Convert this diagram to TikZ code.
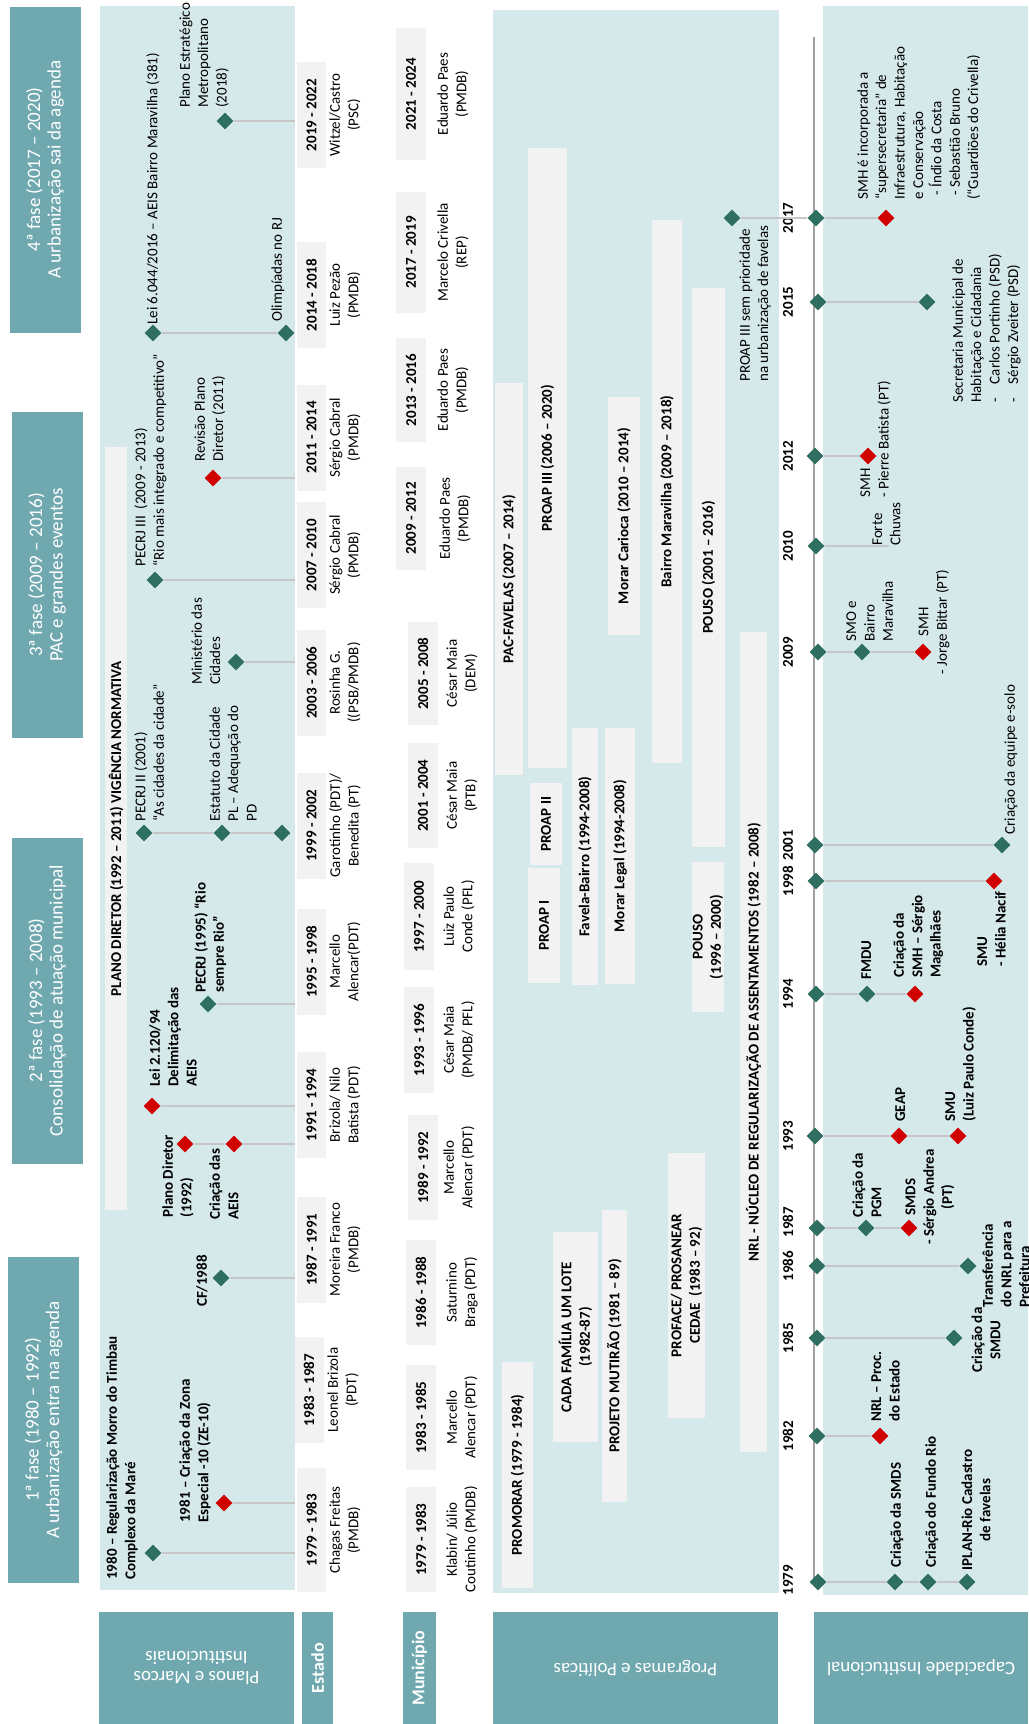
\documentclass[tikz,border=0pt]{standalone}
\usepackage{fontspec}
\setmainfont{Carlito}
\usetikzlibrary{shapes.geometric}

\definecolor{tealfase}{RGB}{111,168,175}
\definecolor{azulfundo}{RGB}{213,232,234}
\definecolor{cinzacaixa}{RGB}{242,242,242}
\definecolor{verdemarco}{RGB}{46,111,97}
\definecolor{vermelhomarco}{RGB}{208,0,0}
\definecolor{cinzalinha}{RGB}{198,198,198}
\definecolor{cinzaeixo}{RGB}{160,160,160}

\newcommand{\tx}{\fontsize{7.5}{9.2}\selectfont}
\newcommand{\txfase}{\fontsize{9.5}{10.2}\selectfont}
\newcommand{\txrotulo}{\fontsize{9.5}{10}\selectfont}

\begin{document}
\begin{tikzpicture}[x=0.5pt,y=-0.5pt,
		txt/.style={rotate=90,anchor=north west,align=left,inner sep=0pt,font=\tx},
		btxt/.style={txt,font=\tx\bfseries},
		ctxt/.style={rotate=90,align=center,inner sep=0pt,font=\tx},
		cbtxt/.style={ctxt,font=\tx\bfseries},
		mverde/.style={diamond,fill=verdemarco,inner sep=0pt,minimum width=8.5pt,minimum height=8.5pt},
		mverm/.style={mverde,fill=vermelhomarco},
		liga/.style={draw=cinzalinha,line width=0.6pt},
		fase/.style={rotate=90,fill=tealfase,text=white,align=center,font=\txfase,minimum width=163pt,minimum height=35.5pt,inner sep=0pt},
		faixa/.style={rotate=90,fill=cinzacaixa,align=center,font=\tx\bfseries,inner sep=0pt},
		gestao/.style={rotate=90,fill=cinzacaixa,font=\tx\bfseries,minimum width=53pt,minimum height=14.5pt,inner sep=0pt},
		gestaom/.style={gestao,minimum height=15pt},
		nome/.style={ctxt},
		ano/.style={rotate=90,font=\tx\bfseries,inner sep=0pt},
		rotulo/.style={rotate=180,fill=tealfase,text=white,align=center,font=\txrotulo,minimum height=56pt,inner sep=0pt},
		rotulov/.style={rotate=90,fill=tealfase,text=white,font=\fontsize{9}{10}\selectfont\bfseries,minimum width=56pt,inner sep=0pt}
	]
	\fill[white] (0,0) rectangle (1028,1724);
	\useasboundingbox (0,0) rectangle (1028,1724);

	% fases
	\node[fase] (fase4) at (45,169.5) {4ª fase (2017 – 2020)\\A urbanização sai da agenda};
	\node[fase] (fase3) at (47,575) {3ª fase (2009 – 2016)\\PAC e grandes eventos};
	\node[fase] (fase2) at (47,1000.5) {2ª fase (1993 – 2008)\\Consolidação de atuação municipal};
	\node[fase] (fase1) at (43.5,1420) {1ª fase (1980 – 1992)\\A urbanização entra na agenda};

	% fundos
	\fill[azulfundo] (100,6) rectangle (295,1590);
	\fill[azulfundo] (493,10) rectangle (779,1593);
	\fill[azulfundo] (823,6) rectangle (1028,1595);

	% rotulos das linhas
	\node[rotulo,minimum width=97.5pt] (rplanos) at (196.5,1668) {Planos e Marcos\\Institucionais};
	\node[rotulov,minimum height=15.5pt] (restado) at (317.5,1668) {Estado};
	\node[rotulov,minimum height=16.5pt] (rmunic) at (419.5,1668) {Município};
	\node[rotulo,minimum width=142.5pt] (rprog) at (635.5,1668) {Programas e Políticas};
	\node[rotulo,minimum width=107pt] (rcap) at (921,1668) {Capacidade Institucional};

	% planos e marcos
	\node[faixa,minimum width=381.5pt,minimum height=11pt] (pdfaixa) at (116,828.5) {PLANO DIRETOR (1992 – 2011) VIGÊNCIA NORMATIVA};

	\node[mverde] (pem) at (225,121) {};
	\coordinate (pemfim) at (295,121);
	\draw[liga] (pem) -- (pemfim);
	\node[txt] (tpem) at (179,108) {Plano Estratégico\\Metropolitano\\(2018)};

	\node[mverde] (lei6044) at (153,333) {};
	\node[mverde] (olimp) at (286,333) {};
	\draw[liga] (lei6044) -- (olimp);
	\node[txt] (tlei6044) at (146,325) {Lei 6.044/2016 – AEIS Bairro Maravilha (381)};
	\node[txt] (tolimp) at (271,322) {Olimpíadas no RJ};

	\node[mverm] (revpd) at (213,478) {};
	\coordinate (revpdfim) at (295,478);
	\draw[liga] (revpd) -- (revpdfim);
	\node[txt] (trevpd) at (194,462) {Revisão Plano\\Diretor (2011)};

	\node[mverde] (pecrj3) at (155,580) {};
	\coordinate (pecrj3fim) at (295,580);
	\draw[liga] (pecrj3) -- (pecrj3fim);
	\node[txt] (tpecrj3) at (134,567) {PECRJ III~ (2009 - 2013)\\“Rio mais integrado e competitivo”};

	\node[mverde] (mincid) at (236,662) {};
	\coordinate (mincidfim) at (295,662);
	\draw[liga] (mincid) -- (mincidfim);
	\node[txt] (tmincid) at (191,685) {Ministério das\\Cidades};

	\node[mverde] (pecrj2) at (144,833) {};
	\node[mverde] (estat) at (222,833) {};
	\node[mverde] (adeqpd) at (282,833) {};
	\draw[liga] (pecrj2) -- (estat);
	\draw[liga] (estat) -- (adeqpd);
	\node[txt] (tpecrj2) at (134,822) {PECRJ II (2001)\\“As cidades da cidade”};
	\node[txt] (testat) at (209,822) {Estatuto da Cidade\\PL – Adequação do\\PD};

	\node[mverde] (pecrj1) at (208,1004) {};
	\coordinate (pecrj1fim) at (295,1004);
	\draw[liga] (pecrj1) -- (pecrj1fim);
	\node[btxt] (tpecrj1) at (194,993) {PECRJ (1995) “Rio\\sempre Rio”};

	\node[mverm] (lei2120) at (152,1106) {};
	\coordinate (lei2120fim) at (295,1106);
	\draw[liga] (lei2120) -- (lei2120fim);
	\node[btxt] (tlei2120) at (149,1087) {Lei 2.120/94\\Delimitação das\\AEIS};

	\node[mverm] (pd92) at (185,1144) {};
	\node[mverm] (aeis) at (234,1144) {};
	\coordinate (aeisfim) at (295,1144);
	\draw[liga] (pd92) -- (aeis);
	\draw[liga] (aeis) -- (aeisfim);
	\node[btxt] (tpd92) at (162,1218) {Plano Diretor\\(1992)};
	\node[btxt] (taeis) at (209,1220) {Criação das\\AEIS};

	\node[mverde] (cf88) at (221,1278) {};
	\coordinate (cf88fim) at (295,1278);
	\draw[liga] (cf88) -- (cf88fim);
	\node[btxt] (tcf88) at (196,1307) {CF/1988};

	\node[mverm] (ze10) at (224,1503) {};
	\coordinate (ze10fim) at (295,1503);
	\draw[liga] (ze10) -- (ze10fim);
	\node[btxt] (tze10) at (179,1523) {1981 – Criação da Zona\\Especial -10 (ZE-10)};

	\node[mverde] (timbau) at (153,1553) {};
	\coordinate (timbaufim) at (295,1553);
	\draw[liga] (timbau) -- (timbaufim);
	\node[btxt] (ttimbau) at (106,1580) {1980 – Regularização Morro do Timbau\\Complexo da Maré};

	% estado
	\node[gestao] (e2019) at (311.5,115) {2019 - 2022};
	\node[nome] (ne2019) at (345,115) {Witzel/Castro\\(PSC)};
	\node[gestao] (e2014) at (311.5,295) {2014 - 2018};
	\node[nome] (ne2014) at (345,295) {Luiz Pezão\\(PMDB)};
	\node[gestao] (e2011) at (311.5,437.5) {2011 - 2014};
	\node[nome] (ne2011) at (345,437.5) {Sérgio Cabral\\(PMDB)};
	\node[gestao] (e2007) at (311.5,555) {2007 - 2010};
	\node[nome] (ne2007) at (345,555) {Sérgio Cabral\\(PMDB)};
	\node[gestao] (e2003) at (311.5,682.5) {2003 - 2006};
	\node[nome] (ne2003) at (345,682.5) {Rosinha G.\\((PSB/PMDB)};
	\node[gestao] (e1999) at (311.5,825.5) {1999 - 2002};
	\node[nome] (ne1999) at (345,825.5) {Garotinho (PDT)/\\Benedita (PT)};
	\node[gestao] (e1995) at (311.5,961.5) {1995 - 1998};
	\node[nome] (ne1995) at (345,961.5) {Marcello\\Alencar(PDT)};
	\node[gestao] (e1991) at (311.5,1105) {1991 - 1994};
	\node[nome] (ne1991) at (345,1105) {Brizola/ Nilo\\Batista (PDT)};
	\node[gestao] (e1987) at (311.5,1249.5) {1987 - 1991};
	\node[nome] (ne1987) at (345,1249.5) {Moreira Franco\\(PMDB)};
	\node[gestao] (e1983) at (309,1390) {1983 - 1987};
	\node[nome] (ne1983) at (343,1390) {Leonel Brizola\\(PDT)};
	\node[gestao,minimum width=62pt] (e1979) at (311.5,1530) {1979 - 1983};
	\node[nome] (ne1979) at (345,1530) {Chagas Freitas\\(PMDB)};

	% municipio
	\node[gestaom,minimum width=66pt] (m2021) at (411,94) {2021 - 2024};
	\node[nome] (nm2021) at (453,94) {Eduardo Paes\\(PMDB)};
	\node[gestaom,minimum width=60.5pt] (m2017) at (411,252.5) {2017 - 2019};
	\node[nome] (nm2017) at (453,252.5) {Marcelo Crivella\\(REP)};
	\node[gestaom,minimum width=52pt] (m2013) at (411,390) {2013 - 2016};
	\node[nome] (nm2013) at (453,390) {Eduardo Paes\\(PMDB)};
	\node[gestaom,minimum width=51.5pt] (m2009) at (411,518.5) {2009 - 2012};
	\node[nome] (nm2009) at (455,518.5) {Eduardo Paes\\(PMDB)};
	\node[gestaom,minimum width=51.5pt] (m2005) at (423,673.5) {2005 - 2008};
	\node[nome] (nm2005) at (462,673.5) {César Maia\\(DEM)};
	\node[gestaom,minimum width=52.5pt] (m2001) at (423,795.5) {2001 - 2004};
	\node[nome] (nm2001) at (462,795.5) {César Maia\\(PTB)};
	\node[gestaom,minimum width=53.5pt] (m1997) at (419,916.5) {1997 - 2000};
	\node[nome] (nm1997) at (459,916.5) {Luiz Paulo\\Conde (PFL)};
	\node[gestaom,minimum width=53pt] (m1993) at (419,1040) {1993 - 1996};
	\node[nome] (nm1993) at (459,1040) {César Maia\\(PMDB/ PFL)};
	\node[gestaom,minimum width=52.5pt] (m1989) at (423,1167.5) {1989 - 1992};
	\node[nome] (nm1989) at (459,1167.5) {Marcello\\Alencar (PDT)};
	\node[gestaom,minimum width=52.5pt] (m1986) at (421,1292.5) {1986 - 1988};
	\node[nome] (nm1986) at (462,1292.5) {Saturnino\\Braga (PDT)};
	\node[gestaom,minimum width=52.5pt] (m1983) at (421,1417.5) {1983 - 1985};
	\node[nome] (nm1983) at (462,1417.5) {Marcello\\Alencar (PDT)};
	\node[gestaom,minimum width=52.5pt] (m1979) at (421,1539.5) {1979 - 1983};
	\node[nome] (nm1979) at (462,1539.5) {Klabin/ Júlio\\Coutinho (PMDB)};

	% programas e politicas
	\node[faixa,minimum width=310pt,minimum height=19.5pt] (proap3) at (547.5,458) {PROAP III (2006 – 2020)};
	\node[faixa,minimum width=196pt,minimum height=14pt] (pacfav) at (509,579) {PAC-FAVELAS (2007 – 2014)};
	\node[faixa,minimum width=41pt,minimum height=16pt] (proap2) at (546,824) {PROAP II};
	\node[faixa,minimum width=57.5pt,minimum height=16pt] (proap1) at (544,925.5) {PROAP I};
	\node[faixa,minimum width=128.5pt,minimum height=13pt] (favbairro) at (585,856.5) {Favela-Bairro (1994-2008)};
	\node[faixa,minimum width=119pt,minimum height=16pt] (morarc) at (624,516) {Morar Carioca (2010 – 2014)};
	\node[faixa,minimum width=128pt,minimum height=15pt] (morarl) at (620,856) {Morar Legal (1994-2008)};
	\node[faixa,minimum width=271.5pt,minimum height=15pt] (bairromar) at (667,491.5) {Bairro Maravilha (2009 – 2018)};
	\node[faixa,minimum width=279.5pt,minimum height=16.5pt] (pouso2) at (708.5,567.5) {POUSO (2001 – 2016)};
	\node[faixa,minimum width=75pt,minimum height=16pt] (pouso1) at (708,937) {POUSO\\(1996 – 2000)};
	\node[faixa,minimum width=410pt,minimum height=13.5pt] (nrl) at (753.5,1042) {NRL - NÚCLEO DE REGULARIZAÇÃO DE ASSENTAMENTOS (1982 – 2008)};
	\node[faixa,minimum width=132.5pt,minimum height=18.5pt] (proface) at (686.5,1285.5) {PROFACE/ PROSANEAR\\CEDAE~ (1983 – 92)};
	\node[faixa,minimum width=146pt,minimum height=12.5pt] (mutirao) at (614.5,1356) {PROJETO MUTIRÃO (1981 – 89)};
	\node[faixa,minimum width=105pt,minimum height=22.5pt] (cadafam) at (575.5,1337) {CADA FAMÍLIA UM LOTE\\(1982-87)};
	\node[faixa,minimum width=113pt,minimum height=15.5pt] (promorar) at (517.5,1475) {PROMORAR (1979 - 1984)};

	% capacidade institucional: eixo
	\coordinate (eixotopo) at (814,37);
	\coordinate (eixobase) at (814,1582);
	\draw[cinzaeixo,line width=1pt] (eixotopo) -- (eixobase);

	\node[mverde] (a2017) at (816,218) {};
	\node[ano] (t2017) at (788,218) {2017};
	\node[mverde] (a2015) at (818,302) {};
	\node[ano] (t2015) at (788,302) {2015};
	\node[mverde] (a2012) at (815,456) {};
	\node[ano] (t2012) at (788,456) {2012};
	\node[mverde] (a2010) at (816,546) {};
	\node[ano] (t2010) at (788,546) {2010};
	\node[mverde] (a2009) at (818,652) {};
	\node[ano] (t2009) at (788,652) {2009};
	\node[mverde] (a2001) at (815,845) {};
	\node[ano] (t2001) at (788,845) {2001};
	\node[mverde] (a1998) at (816,881) {};
	\node[ano] (t1998) at (788,881) {1998};
	\node[mverde] (a1994) at (816,994) {};
	\node[ano] (t1994) at (788,994) {1994};
	\node[mverde] (a1993) at (815,1136) {};
	\node[ano] (t1993) at (788,1136) {1993};
	\node[mverde] (a1987) at (817,1228) {};
	\node[ano] (t1987) at (788,1222) {1987};
	\node[mverde] (a1986) at (817,1266) {};
	\node[ano] (t1986) at (788,1266) {1986};
	\node[mverde] (a1985) at (817,1338) {};
	\node[ano] (t1985) at (788,1338) {1985};
	\node[mverde] (a1982) at (817,1436) {};
	\node[ano] (t1982) at (788,1436) {1982};
	\node[mverde] (a1979) at (818,1582) {};
	\node[ano] (t1979) at (788,1580) {1979};

	% 2017
	\node[mverde] (semprio) at (732,218) {};
	\node[mverm] (smhsuper) at (886,218) {};
	\draw[liga] (semprio) -- (a2017);
	\draw[liga] (a2017) -- (smhsuper);
	\node[txt] (tsemprio) at (739,382) {PROAP III sem prioridade\\na urbanização de favelas};
	\node[txt] (tsmhsuper) at (857,200) {SMH é incorporada a\\“supersecretaria” de\\Infraestrutura, Habitação\\e Conservação\\\hspace*{2pt}- Índio da Costa\\\hspace*{2pt}- Sebastião Bruno\\(“Guardiões do Crivella)};

	% 2015
	\node[mverde] (smhc) at (927,302) {};
	\draw[liga] (a2015) -- (smhc);
	\node[txt] (tsmhc) at (952,403) {Secretaria Municipal de\\Habitação e Cidadania\\-\hspace{7pt}Carlos Portinho (PSD)\\-\hspace{7pt}Sérgio Zveiter (PSD)};

	% 2012
	\node[mverm] (smh12) at (868,456) {};
	\draw[liga] (a2012) -- (smh12);
	\node[txt] (tsmh12) at (860,498) {SMH\\- Pierre Batista (PT)};

	% 2010
	\coordinate (chuvas) at (889,546);
	\draw[liga] (a2010) -- (chuvas);
	\node[txt] (tchuvas) at (872,546) {Forte\\Chuvas};

	% 2009
	\node[mverde] (smo) at (862,652) {};
	\node[mverm] (smh09) at (923,652) {};
	\draw[liga] (a2009) -- (smo);
	\draw[liga] (smo) -- (smh09);
	\node[txt] (tsmo) at (846,642) {SMO e\\Bairro\\Maravilha};
	\node[ctxt] (tsmh09) at (934,622) {SMH\\- Jorge Bittar (PT)};

	% 2001
	\node[mverde] (esolo) at (1002,845) {};
	\draw[liga] (a2001) -- (esolo);
	\node[txt] (tesolo) at (1004,835) {Criação da equipe e-solo};

	% 1998
	\node[mverm] (smu98) at (994,881) {};
	\draw[liga] (a1998) -- (smu98);
	\node[btxt] (tsmu98) at (977,967) {SMU\\- Hélia Nacif};

	% 1994
	\node[mverde] (fmdu) at (867,994) {};
	\node[mverm] (smh94) at (915,994) {};
	\draw[liga] (a1994) -- (fmdu);
	\draw[liga] (fmdu) -- (smh94);
	\node[btxt] (tfmdu) at (861,980) {FMDU};
	\node[btxt] (tsmh94) at (893,978) {Criação da\\SMH – Sérgio\\Magalhães};

	% 1993
	\node[mverm] (geap) at (899,1136) {};
	\node[mverm] (smu93) at (958,1136) {};
	\draw[liga] (a1993) -- (geap);
	\draw[liga] (geap) -- (smu93);
	\node[btxt] (tgeap) at (895,1122) {GEAP};
	\node[btxt] (tsmu93) at (945,1122) {SMU\\(Luiz Paulo Conde)};

	% 1987
	\node[mverde] (pgm) at (866,1228) {};
	\node[mverm] (smds87) at (909,1228) {};
	\draw[liga] (a1987) -- (pgm);
	\draw[liga] (pgm) -- (smds87);
	\node[btxt] (tpgm) at (852,1218) {Criação da\\PGM};
	\node[cbtxt] (tsmds87) at (930,1197) {SMDS\\- Sérgio Andrea\\(PT)};

	% 1986
	\node[mverde] (transf) at (968,1266) {};
	\draw[liga] (a1986) -- (transf);
	\node[btxt] (ttransf) at (982,1308) {Transferência\\do NRL para a\\Prefeitura};

	% 1985
	\node[mverde] (smdu) at (954,1338) {};
	\draw[liga] (a1985) -- (smdu);
	\node[cbtxt] (tsmdu) at (986,1340) {Criação da\\SMDU};

	% 1982
	\node[mverm] (nrlest) at (880,1436) {};
	\draw[liga] (a1982) -- (nrlest);
	\node[btxt] (tnrlest) at (871,1422) {NRL – Proc.\\do Estado};

	% 1979
	\node[mverde] (smds79) at (895,1582) {};
	\node[mverde] (fundorio) at (928,1582) {};
	\node[mverde] (iplan) at (967,1582) {};
	\draw[liga] (a1979) -- (smds79);
	\draw[liga] (smds79) -- (fundorio);
	\draw[liga] (fundorio) -- (iplan);
	\node[btxt] (tsmds79) at (890,1568) {Criação da SMDS};
	\node[btxt] (tfundorio) at (925,1568) {Criação do Fundo Rio};
	\node[cbtxt] (tiplan) at (976,1510) {IPLAN-Rio Cadastro\\de favelas};
\end{tikzpicture}
\end{document}
